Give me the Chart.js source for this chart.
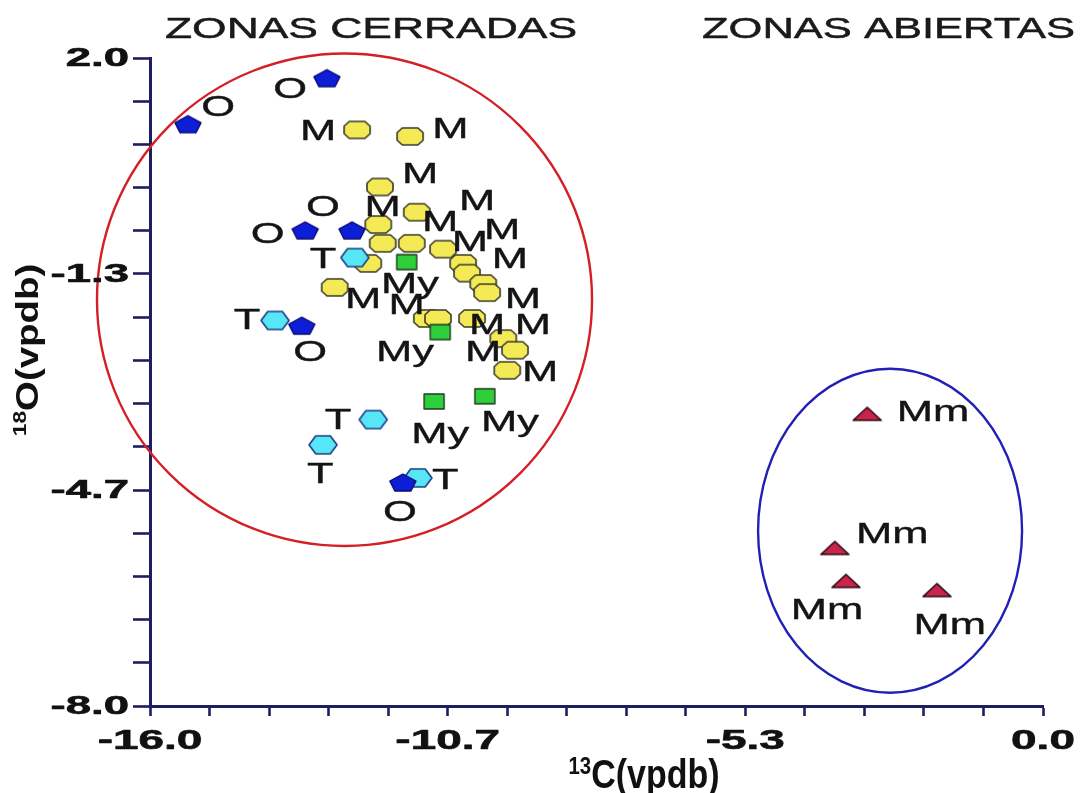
<!DOCTYPE html>
<html>
<head>
<meta charset="utf-8">
<title>ZONAS CERRADAS / ZONAS ABIERTAS</title>
<script src="https://cdn.jsdelivr.net/npm/chart.js@4.4.1/dist/chart.umd.min.js"></script>
<style>
  html, body { margin: 0; padding: 0; background: #ffffff; }
  #wrap { width: 1086px; height: 793px; position: relative; }
</style>
</head>
<body>
<div id="wrap"><canvas id="c" width="1086" height="793"></canvas></div>
<script>
// δ13C (x) and δ18O (y), ‰ VPDB, per sample group
const mX  = [-12.29, -11.34, -11.88, -11.22, -11.91, -11.83, -11.31, -10.75, -12.09, -10.39, -10.32, -10.03, -9.96, -12.69, -11.04, -10.84, -10.23, -9.67, -9.46, -9.60];
const mY  = [0.89, 0.79, 0.01, -0.38, -0.57, -0.86, -0.86, -0.95, -1.17, -1.17, -1.32, -1.48, -1.62, -1.54, -2.02, -2.02, -2.02, -2.33, -2.51, -2.82];
const myX = [-11.40, -10.80, -10.91, -10.00];
const myY = [-1.15, -2.23, -3.30, -3.22];
const oX  = [-12.83, -15.32, -13.22, -12.38, -13.28, -11.47];
const oY  = [1.69, 0.98, -0.66, -0.66, -2.13, -4.55];
const tX  = [-12.33, -13.76, -12.00, -12.90, -11.20];
const tY  = [-1.08, -2.05, -3.58, -3.97, -4.48];
const mmX = [-3.15, -3.73, -3.53, -1.90];
const mmY = [-3.49, -5.56, -6.07, -6.21];

// group tags written beside the points (data coordinates)
const tagMX  = [-12.99, -10.62, -11.16, -11.83, -10.14, -10.80, -9.69, -10.27, -9.55, -12.18, -11.40, -9.32, -9.96, -9.14, -10.03, -9.01];
const tagMY  = [0.89, 0.92, 0.24, -0.27, -0.19, -0.50, -0.63, -0.81, -1.08, -1.69, -1.79, -1.69, -2.10, -2.10, -2.51, -2.82];
const tagMyX = [-11.34, -11.43, -10.80, -9.55];
const tagMyY = [-1.46, -2.51, -3.78, -3.60];
const tagOX  = [-14.78, -13.49, -12.90, -13.89, -13.13, -11.52];
const tagOY  = [1.27, 1.54, -0.27, -0.69, -2.51, -4.99];
const tagTX  = [-12.90, -14.26, -12.63, -12.95, -10.71];
const tagTY  = [-1.08, -2.02, -3.56, -4.40, -4.49];
const tagMmX = [-1.97, -2.70, -3.87, -1.67];
const tagMmY = [-3.44, -5.33, -6.50, -6.72];

// axis ticks
const xTickLabels = ['-16.0', '-10.7', '-5.3', '0.0'];
const yTickLabels = ['-8.0', '-4.7', '-1.3', '2.0'];
const minorPerMajor = 5;

// zone outlines (centre and semi-axes, data units)
const closedZone = { cx: -12.515, cy: -1.73, rx: 4.435, ry: 3.80 };
const openZone   = { cx: -2.74,  cy: -5.295, rx: 2.365, ry: 2.50 };

const NAVY = '#1d1d5f';

function markerCanvas(w, h, poly, fill, stroke, lw) {
  const c = document.createElement('canvas');
  const pad = Math.ceil(lw) + 1;
  c.width = w + 2 * pad;
  c.height = h + 2 * pad;
  const g = c.getContext('2d');
  g.translate(c.width / 2, c.height / 2);
  g.beginPath();
  poly.forEach(([px, py], i) => {
    const X = px * w, Y = py * h;
    if (i) g.lineTo(X, Y); else g.moveTo(X, Y);
  });
  g.closePath();
  g.fillStyle = fill;
  g.fill();
  g.lineWidth = lw;
  g.lineJoin = 'round';
  g.strokeStyle = stroke;
  g.stroke();
  return c;
}

const OCT  = [[-0.5,-0.22],[-0.3,-0.5],[0.3,-0.5],[0.5,-0.22],[0.5,0.22],[0.3,0.5],[-0.3,0.5],[-0.5,0.22]];
const HEX  = [[-0.5,0],[-0.26,-0.5],[0.26,-0.5],[0.5,0],[0.26,0.5],[-0.26,0.5]];
const PENT = [[0,-0.5],[0.5,-0.08],[0.31,0.5],[-0.31,0.5],[-0.5,-0.08]];
const SQR  = [[-0.5,-0.5],[0.5,-0.5],[0.5,0.5],[-0.5,0.5]];
const TRI  = [[0,-0.5],[0.5,0.5],[-0.5,0.5]];

const markers = {
  M:  markerCanvas(26, 17, OCT,  '#f4ea55', '#3a3a2a', 1.6),
  T:  markerCanvas(28, 18, HEX,  '#57e6f6', '#1b3d86', 1.6),
  O:  markerCanvas(26, 17, PENT, '#0c1fd6', '#0a0a78', 1.4),
  My: markerCanvas(20, 15, SQR,  '#2fcf3c', '#1e3a1e', 1.4),
  Mm: markerCanvas(28, 13, TRI,  '#c8244c', '#2a0a10', 1.6)
};

const pts = (xs, ys) => xs.map((x, i) => ({ x: x, y: ys[i] }));

// text with a horizontal stretch; a thin outline gives the heavier print look
function scaledText(ctx, str, x, y, font, sx, align, heavy) {
  ctx.save();
  ctx.translate(x, y);
  ctx.scale(sx, 1);
  ctx.font = font;
  ctx.textAlign = align || 'left';
  ctx.textBaseline = 'alphabetic';
  ctx.fillText(str, 0, 0);
  if (heavy) {
    ctx.lineWidth = heavy;
    ctx.strokeStyle = ctx.fillStyle;
    ctx.lineJoin = 'round';
    ctx.strokeText(str, 0, 0);
  }
  ctx.restore();
}

// superscript + main text, centred on the origin of the current transform
function supText(ctx, sup, main, size, supSize, weight, sx) {
  ctx.save();
  ctx.scale(sx, 1);
  ctx.textBaseline = 'alphabetic';
  ctx.textAlign = 'left';
  ctx.font = weight + ' ' + supSize + 'px "Liberation Sans", Arial, sans-serif';
  const ws = ctx.measureText(sup).width;
  ctx.font = weight + ' ' + size + 'px "Liberation Sans", Arial, sans-serif';
  const wm = ctx.measureText(main).width;
  const x0 = -(ws + wm) / 2;
  ctx.font = weight + ' ' + supSize + 'px "Liberation Sans", Arial, sans-serif';
  ctx.fillText(sup, x0, -size * 0.36);
  ctx.font = weight + ' ' + size + 'px "Liberation Sans", Arial, sans-serif';
  ctx.fillText(main, x0 + ws, 0);
  ctx.restore();
}

const decorations = {
  id: 'decorations',
  beforeDatasetsDraw(chart) {
    const ctx = chart.ctx, xs = chart.scales.x, ys = chart.scales.y;
    const ell = (z, color) => {
      const cx = xs.getPixelForValue(z.cx), cy = ys.getPixelForValue(z.cy);
      const rx = Math.abs(xs.getPixelForValue(z.cx + z.rx) - cx);
      const ry = Math.abs(ys.getPixelForValue(z.cy + z.ry) - cy);
      ctx.save();
      ctx.beginPath();
      ctx.ellipse(cx, cy, rx, ry, 0, 0, Math.PI * 2);
      ctx.lineWidth = 2.4;
      ctx.strokeStyle = color;
      ctx.stroke();
      ctx.restore();
    };
    ell(closedZone, '#d41f26');
    ell(openZone, '#2020b4');
  },
  afterDatasetsDraw(chart) {
    const ctx = chart.ctx, xs = chart.scales.x, ys = chart.scales.y;
    const area = chart.chartArea;
    ctx.save();
    ctx.fillStyle = '#141414';

    // group tags
    const tagFont = '30px "Liberation Sans", Arial, sans-serif';
    const tags = (txt, tx, ty) => tx.forEach((x, i) => {
      const px = xs.getPixelForValue(x), py = ys.getPixelForValue(ty[i]);
      scaledText(ctx, txt, px, py + 10.5, tagFont, 1.45, 'center', 0.4);
    });
    tags('M', tagMX, tagMY);
    tags('My', tagMyX, tagMyY);
    tags('O', tagOX, tagOY);
    tags('T', tagTX, tagTY);
    tags('Mm', tagMmX, tagMmY);

    // zone headings
    ctx.fillStyle = '#1a1a1a';
    const headFont = '30px "Liberation Sans", Arial, sans-serif';
    scaledText(ctx, 'ZONAS CERRADAS', area.left + 15, 38, headFont, 1.48, 'left', 0.5);
    scaledText(ctx, 'ZONAS ABIERTAS', 702, 38, headFont, 1.45, 'left', 0.5);

    // tick labels
    ctx.fillStyle = '#111111';
    const tickFont = 'bold 27px "Liberation Sans", Arial, sans-serif';
    xs.ticks.forEach((t, i) => {
      if (i % minorPerMajor) return;
      const px = xs.getPixelForValue(t.value);
      scaledText(ctx, xTickLabels[i / minorPerMajor], px, area.bottom + 43, tickFont, 1.7, 'center', 0.6);
    });
    const yFont = 'bold 25px "Liberation Sans", Arial, sans-serif';
    ys.ticks.forEach((t, i) => {
      if (i % minorPerMajor) return;
      const py = ys.getPixelForValue(t.value);
      scaledText(ctx, yTickLabels[i / minorPerMajor], 129, py + 8, yFont, 1.82, 'right', 0.6);
    });

    // axis titles
    ctx.save();
    ctx.translate(644, 788);
    supText(ctx, '13', 'C(vpdb)', 40, 24, 'bold', 0.85);
    ctx.restore();

    ctx.save();
    ctx.translate(38, 350);
    ctx.rotate(-Math.PI / 2);
    supText(ctx, '18', 'O(vpdb)', 32, 19, 'bold', 1.2);
    ctx.restore();

    ctx.restore();
  }
};

const evenTicks = (s) => {
  const n = (xTickLabels.length - 1) * minorPerMajor;
  s.ticks = Array.from({ length: n + 1 }, (_, i) => ({ value: s.min + i * (s.max - s.min) / n }));
};

const axisCommon = {
  type: 'linear',
  border: { display: true, color: NAVY, width: 3 },
  ticks: { display: false },
  afterBuildTicks: evenTicks
};

new Chart(document.getElementById('c'), {
  type: 'scatter',
  data: {
    datasets: [
      { label: 'My', data: pts(myX, myY), pointStyle: markers.My, pointRadius: 10 },
      { label: 'O',  data: pts(oX, oY),   pointStyle: markers.O,  pointRadius: 10 },
      { label: 'T',  data: pts(tX, tY),   pointStyle: markers.T,  pointRadius: 10 },
      { label: 'M',  data: pts(mX, mY),   pointStyle: markers.M,  pointRadius: 10 },
      { label: 'Mm', data: pts(mmX, mmY), pointStyle: markers.Mm, pointRadius: 10 }
    ]
  },
  options: {
    responsive: false,
    animation: false,
    devicePixelRatio: 1,
    layout: { padding: { top: 58, right: 43, left: 0, bottom: 0 } },
    plugins: { legend: { display: false }, tooltip: { enabled: false } },
    scales: {
      x: Object.assign({}, axisCommon, {
        position: 'bottom', min: -16, max: 0,
        grid: { display: true, drawOnChartArea: false, drawTicks: true, tickLength: 10, tickWidth: 2.6, tickColor: NAVY, color: NAVY },
        afterFit: (s) => { s.height = 87; }
      }),
      y: Object.assign({}, axisCommon, {
        position: 'left', min: -8, max: 2,
        grid: { display: true, drawOnChartArea: false, drawTicks: true, tickLength: 17, tickWidth: 2.6, tickColor: NAVY, color: NAVY },
        afterFit: (s) => { s.width = 150; }
      })
    }
  },
  plugins: [decorations]
});
</script>
</body>
</html>
